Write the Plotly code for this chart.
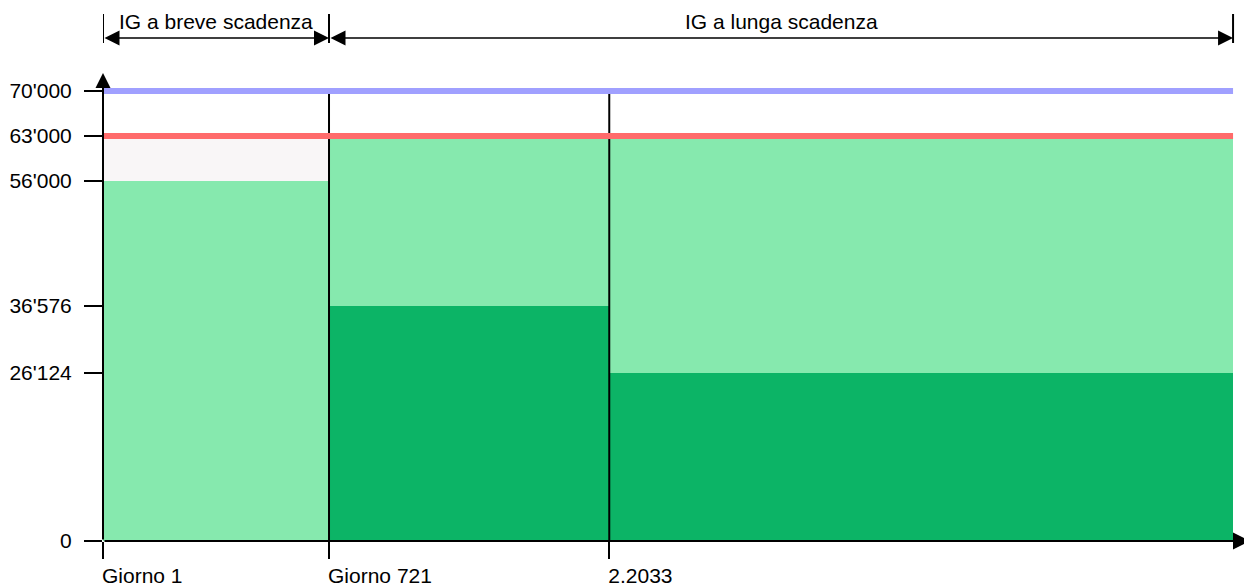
import plotly.graph_objects as go

# ---- data ----
x_edges = [0.0, 1.0, 2.24, 5.0]            # segment boundaries (relative time scale)
x_labels = ["Giorno 1", "Giorno 721", "2.2033"]
period_labels = ["IG a breve scadenza", "IG a lunga scadenza"]
period_edges = [(0, 1), (1, 3)]             # indices into x_edges
lower_values = [56000, 36576, 26124]
upper_value = 63000
limit_value = 70000
y_ticks = [0, 26124, 36576, 56000, 63000, 70000]
y_ticktext = ["0", "26'124", "36'576", "56'000", "63'000", "70'000"]

# ---- styles ----
LIGHT = "#86E9AE"
DARK = "#0CB466"
PINK = "#F9F6F7"
BLUE = "#A0A0FF"
RED = "#FF6B6B"
FONT = "Liberation Sans, Arial, sans-serif"
FS = 21

lower_colors = [LIGHT, DARK, DARK]
upper_colors = [PINK, LIGHT, LIGHT]

centers = [(x_edges[i] + x_edges[i + 1]) / 2 for i in range(3)]
widths = [x_edges[i + 1] - x_edges[i] for i in range(3)]

X_MAX = 5.075
Y_MAX = 72800
OFF = 8                       # page body margin offset
W, H = 1252 - OFF, 587 - OFF
M_L, M_R, M_T, M_B = 103 - OFF, 2, 73 - OFF, 46
PLOT_TOP_ABS, PLOT_BOT_ABS = 73, 541
PLOT_H = PLOT_BOT_ABS - PLOT_TOP_ABS


def py(p):
    """absolute pixel row -> paper y"""
    return (PLOT_BOT_ABS - p) / PLOT_H


fig = go.Figure()

fig.add_trace(go.Bar(x=centers, y=lower_values, width=widths,
                     marker=dict(color=lower_colors, line=dict(width=0)),
                     hoverinfo="skip", showlegend=False))
fig.add_trace(go.Bar(x=centers, y=[upper_value - v for v in lower_values],
                     base=lower_values, width=widths,
                     marker=dict(color=upper_colors, line=dict(width=0)),
                     hoverinfo="skip", showlegend=False))

# vertical separators
for xe in x_edges[1:3]:
    fig.add_trace(go.Scatter(x=[xe, xe], y=[0, limit_value], mode="lines",
                             line=dict(color="black", width=2),
                             hoverinfo="skip", showlegend=False))

# horizontal reference lines
fig.add_trace(go.Scatter(x=[x_edges[0], x_edges[-1]], y=[upper_value, upper_value],
                         mode="lines", line=dict(color=RED, width=6),
                         hoverinfo="skip", showlegend=False))
fig.add_trace(go.Scatter(x=[x_edges[0], x_edges[-1]], y=[limit_value, limit_value],
                         mode="lines", line=dict(color=BLUE, width=6),
                         hoverinfo="skip", showlegend=False))

annotations = []
# axes with arrows
annotations.append(dict(x=X_MAX, y=0, ax=0, ay=0, xref="x", yref="y", axref="x", ayref="y",
                        showarrow=True, arrowhead=2, arrowsize=1.7, arrowwidth=2,
                        arrowcolor="black", text=""))
annotations.append(dict(x=0, y=Y_MAX, ax=0, ay=0, xref="x", yref="y", axref="x", ayref="y",
                        showarrow=True, arrowhead=2, arrowsize=1.5, arrowwidth=2,
                        arrowcolor="black", text=""))

shapes = []
for label, (i0, i1) in zip(period_labels, period_edges):
    xa, xb = x_edges[i0], x_edges[i1]
    annotations.append(dict(x=xb, y=py(38), ax=xa, ay=0, xref="x", yref="paper",
                            axref="x", ayref="pixel", showarrow=True, arrowhead=2,
                            startarrowhead=2, arrowside="end+start", arrowsize=2.0,
                            startarrowsize=2.0, arrowwidth=1.5, arrowcolor="black",
                            text=""))
    annotations.append(dict(x=(xa + xb) / 2, y=py(22), xref="x", yref="paper",
                            text=label, showarrow=False, yanchor="middle",
                            font=dict(family=FONT, size=FS, color="black")))
    for xe in (xa, xb):
        shapes.append(dict(type="line", x0=xe, x1=xe, y0=py(14), y1=py(43),
                           xref="x", yref="paper", line=dict(color="black", width=2)))

fig.update_layout(
    width=W, height=H,
    margin=dict(l=M_L, r=M_R, t=M_T, b=M_B, pad=0, autoexpand=False),
    paper_bgcolor="white", plot_bgcolor="white",
    barmode="overlay", bargap=0,
    annotations=annotations, shapes=shapes,
    font=dict(family=FONT, size=FS, color="black"),
    xaxis=dict(range=[0, X_MAX], tickvals=x_edges[:3], ticktext=x_labels,
               ticks="outside", ticklen=17, tickwidth=2, tickcolor="black",
               ticklabelposition="outside right", ticklabelstandoff=16,
               ticklabelshift=-2,
               showgrid=False, zeroline=False, automargin=False,
               showline=False, fixedrange=True,
               tickfont=dict(family=FONT, size=FS, color="black")),
    yaxis=dict(range=[0, Y_MAX], tickvals=y_ticks, ticktext=y_ticktext,
               ticks="outside", ticklen=18, tickwidth=2, tickcolor="black",
               ticklabelstandoff=8, showgrid=False, zeroline=False,
               automargin=False, showline=False, fixedrange=True,
               tickfont=dict(family=FONT, size=FS, color="black")),
)

fig.write_html("out.html")
